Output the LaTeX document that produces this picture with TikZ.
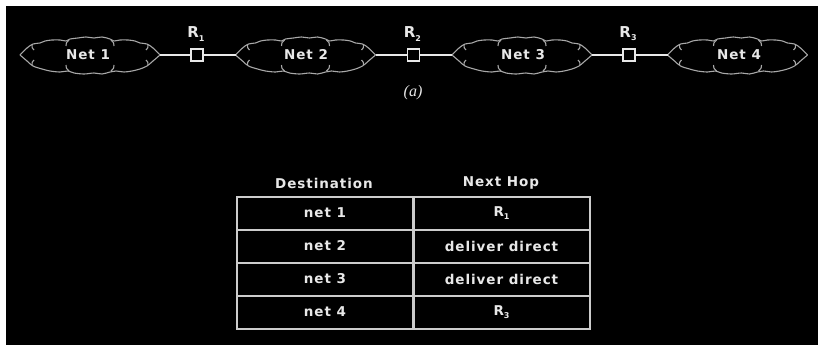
\documentclass[tikz,border=0pt]{standalone}
\usepackage{fontspec}
\newfontfamily\labfont[LetterSpace=7]{DejaVu Sans}
\newfontfamily\capfont{Liberation Serif}
\definecolor{ink}{HTML}{E8E8E8}
\definecolor{cloudc}{HTML}{A8A8A8}
\definecolor{gridc}{HTML}{CCCCCC}
\begin{document}
\begin{tikzpicture}[x=1pt,y=-1pt,
  lab/.style={text=ink,font=\labfont\bfseries\fontsize{13.5}{15}\selectfont,inner sep=0pt},
  rlab/.style={text=ink,font=\labfont\bfseries\fontsize{15}{16}\selectfont,inner sep=0pt},
  router/.style={draw=ink,line width=1.4pt,minimum size=12pt,inner sep=0pt,fill=black},
  wire/.style={draw=ink,line width=1.4pt},
  cloudline/.style={draw=cloudc,line width=1.1pt},
  cell/.style={draw=gridc,line width=2pt,minimum width=176pt,minimum height=33pt,inner sep=0pt,text=ink,font=\labfont\bfseries\fontsize{13.5}{15}\selectfont},
  netcloud/.pic={
    \draw[cloudline] plot[smooth,tension=0.55] coordinates{(-70,0) (-63,-7) (-57,-11) (-50,-12) (-45,-14) (-38,-15) (-30,-15) (-24,-14) (-20,-16) (-12,-17) (-4,-18) (4,-17) (12,-18) (20,-16) (24,-14) (30,-15) (38,-15) (45,-14) (50,-12) (57,-11) (63,-7) (70,0)};
    \draw[cloudline] plot[smooth,tension=0.55] coordinates{(-70,0) (-63,6) (-57,11) (-48,14) (-40,16) (-30,17) (-22,16) (-16,18) (-6,19) (4,18) (12,19) (20,17) (26,16) (34,17) (42,16) (50,14) (57,11) (63,6) (70,0)};
    \draw[cloudline] (-21,-15) .. controls (-24,-12) .. (-24,-9);
    \draw[cloudline] (-21,16) .. controls (-24,13) .. (-24,10);
    \draw[cloudline] (21,-15) .. controls (24,-12) .. (24,-9);
    \draw[cloudline] (21,16) .. controls (24,13) .. (24,10);
    \draw[cloudline] (-58,-10) .. controls (-58,-7) .. (-56,-5);
    \draw[cloudline] (-58,10) .. controls (-58,7) .. (-56,5);
    \draw[cloudline] (58,-10) .. controls (58,-7) .. (56,-5);
    \draw[cloudline] (58,10) .. controls (58,7) .. (56,5);
    \coordinate (-l) at (-70,0);
    \coordinate (-r) at (70,0);
  }]
\useasboundingbox (0,0) rectangle (818,345);
\fill[white] (0,0) rectangle (818,345);
\fill[black] (6,6) rectangle (818,345);

% clouds
\pic (c1) at (90,55) {netcloud};
\pic (c2) at (305.5,55) {netcloud};
\pic (c3) at (522,55) {netcloud};
\pic (c4) at (737.5,55) {netcloud};
\node[lab] (t1) at (88,55) {Net 1};
\node[lab] (t2) at (306,55) {Net 2};
\node[lab] (t3) at (523,55) {Net 3};
\node[lab] (t4) at (739,55) {Net 4};

% routers
\node[router] (r1) at (197,55) {};
\node[router] (r2) at (413.5,55) {};
\node[router] (r3) at (629,55) {};
\draw[wire] (c1-r) -- (r1.west);
\draw[wire] (r1.east) -- (c2-l);
\draw[wire] (c2-r) -- (r2.west);
\draw[wire] (r2.east) -- (c3-l);
\draw[wire] (c3-r) -- (r3.west);
\draw[wire] (r3.east) -- (c4-l);
\node[rlab,anchor=south] (rl1) at ([xshift=-1pt,yshift=7pt]r1.north) {R\raisebox{-0.45ex}{\fontsize{8}{9}\selectfont 1}};
\node[rlab,anchor=south] (rl2) at ([xshift=-1pt,yshift=7pt]r2.north) {R\raisebox{-0.45ex}{\fontsize{8}{9}\selectfont 2}};
\node[rlab,anchor=south] (rl3) at ([xshift=-1pt,yshift=7pt]r3.north) {R\raisebox{-0.45ex}{\fontsize{8}{9}\selectfont 3}};

\node[text=ink,font=\capfont\itshape\fontsize{16}{18}\selectfont] (cap) at (413,93) {(a)};

% table
\node[lab] (h1) at (324,183) {Destination};
\node[lab] (h2) at (501,183) {Next Hop};
\node[cell] (a1) at (325,213) {net 1};
\node[cell] (b1) at (501.5,213) {R\raisebox{-0.45ex}{\fontsize{8}{9}\selectfont 1}};
\node[cell] (a2) at (325,246) {net 2};
\node[cell] (b2) at (501.5,246) {deliver direct};
\node[cell] (a3) at (325,279) {net 3};
\node[cell] (b3) at (501.5,279) {deliver direct};
\node[cell] (a4) at (325,312) {net 4};
\node[cell] (b4) at (501.5,312) {R\raisebox{-0.45ex}{\fontsize{8}{9}\selectfont 3}};
\end{tikzpicture}
\end{document}
